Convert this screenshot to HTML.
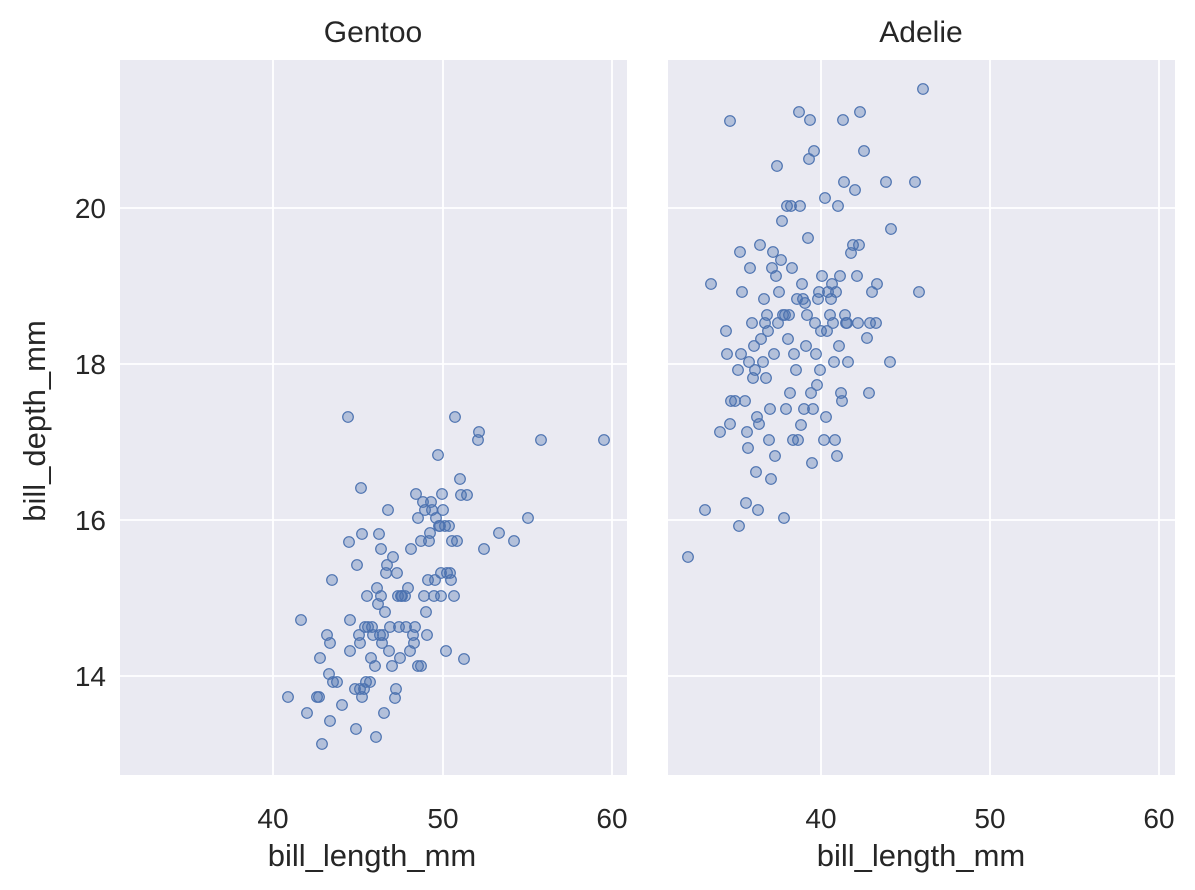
<!DOCTYPE html>
<html><head><meta charset="utf-8"><style>
body{margin:0;background:#fff}
svg{display:block}
text{font-family:"Liberation Sans",sans-serif;fill:#262626}
</style></head><body>
<svg id="s" width="1195" height="890" xmlns="http://www.w3.org/2000/svg">
<rect x="120" y="60" width="507" height="715" fill="#eaeaf2"/>
<rect x="668" y="60" width="507" height="715" fill="#eaeaf2"/>
<g stroke="#fff" stroke-width="1.8">
<line x1="273" y1="60" x2="273" y2="775"/><line x1="443" y1="60" x2="443" y2="775"/><line x1="612" y1="60" x2="612" y2="775"/>
<line x1="821" y1="60" x2="821" y2="775"/><line x1="990" y1="60" x2="990" y2="775"/><line x1="1159" y1="60" x2="1159" y2="775"/>
<line x1="120" y1="208" x2="627" y2="208"/><line x1="120" y1="364" x2="627" y2="364"/><line x1="120" y1="520" x2="627" y2="520"/><line x1="120" y1="676" x2="627" y2="676"/>
<line x1="668" y1="208" x2="1175" y2="208"/><line x1="668" y1="364" x2="1175" y2="364"/><line x1="668" y1="520" x2="1175" y2="520"/><line x1="668" y1="676" x2="1175" y2="676"/>
</g>
<g id="pts" fill="rgba(76,114,176,0.35)" stroke="#4c72b0" stroke-width="1.2"></g>
<g font-size="28" text-anchor="middle">
<text x="273" y="828">40</text><text x="443" y="828">50</text><text x="612" y="828">60</text>
<text x="821" y="828">40</text><text x="990" y="828">50</text><text x="1159" y="828">60</text>
<text x="373" y="42" font-size="30">Gentoo</text><text x="921" y="42" font-size="30">Adelie</text>
<text x="372" y="866" font-size="31">bill_length_mm</text><text x="921" y="866" font-size="31">bill_length_mm</text>
</g>
<g font-size="28" text-anchor="end">
<text x="106" y="218">20</text><text x="106" y="374">18</text><text x="106" y="530">16</text><text x="106" y="686">14</text>
</g>
<text x="0" y="0" font-size="31" text-anchor="middle" transform="translate(45,421) rotate(-90)">bill_depth_mm</text>
</svg>
<script>
var p=[[288,697],[307,713],[317,697],[319,697],[322,744],[301,620],[327,635],[330,643],[320,658],[329,674],[333,682],[337,682],[330,721],[342,705],[332,580],[348,417],[349,542],[350,620],[350,651],[355,689],[356,729],[357,565],[359,635],[360,643],[361,488],[362,534],[360,689],[362,697],[364,689],[365,627],[366,682],[367,596],[368,627],[370,682],[371,658],[372,627],[373,635],[375,666],[376,737],[377,588],[378,604],[379,534],[380,635],[381,549],[381,596],[382,643],[383,635],[384,713],[385,612],[386,573],[387,565],[388,510],[389,651],[390,627],[392,666],[393,557],[395,698],[396,689],[397,573],[398,596],[399,627],[400,658],[401,596],[402,596],[405,596],[406,627],[408,588],[410,651],[411,549],[413,635],[414,643],[415,627],[416,494],[418,518],[418,666],[421,666],[421,541],[423,502],[424,596],[425,510],[426,612],[427,635],[428,580],[429,541],[430,533],[431,502],[432,510],[434,596],[435,580],[436,518],[438,455],[439,526],[440,526],[441,596],[441,573],[442,494],[443,510],[445,526],[446,651],[447,573],[449,526],[450,573],[451,580],[452,541],[454,596],[455,417],[457,541],[460,479],[461,495],[464,659],[467,495],[478,440],[479,432],[484,549],[499,533],[514,541],[528,518],[541,440],[604,440],
[688,557],[705,510],[711,284],[720,432],[726,331],[727,354],[730,424],[731,401],[735,401],[738,370],[739,526],[740,252],[741,354],[742,292],[745,401],[746,503],[747,432],[748,448],[749,362],[750,268],[752,323],[753,378],[754,346],[755,370],[756,472],[757,417],[758,510],[759,424],[760,245],[761,339],[763,362],[764,299],[765,323],[766,378],[767,315],[768,331],[769,440],[770,409],[771,479],[772,268],[773,252],[774,354],[775,456],[776,276],[777,166],[778,323],[779,292],[781,260],[782,221],[783,315],[784,518],[785,315],[786,409],[787,206],[788,339],[789,315],[790,393],[791,206],[792,268],[793,440],[794,354],[796,370],[797,299],[798,440],[799,112],[800,206],[801,425],[802,284],[803,299],[804,409],[805,303],[806,346],[807,315],[808,238],[809,159],[810,120],[811,393],[812,463],[813,409],[814,151],[815,323],[816,354],[817,385],[818,299],[819,292],[820,370],[821,331],[822,276],[824,440],[825,198],[826,417],[827,331],[828,292],[830,315],[831,299],[832,284],[833,323],[834,362],[835,440],[836,292],[837,456],[838,206],[839,346],[840,276],[841,393],[842,401],[843,120],[844,182],[845,315],[846,323],[847,323],[848,362],[851,253],[853,245],[855,190],[857,276],[858,323],[859,245],[860,112],[864,151],[867,338],[869,393],[870,323],[872,292],[876,323],[877,284],[886,182],[890,362],[891,229],[915,182],[919,292],[923,89],[730,121]];
var g=document.getElementById('pts'),h='';
p.forEach(function(q){h+='<circle cx="'+q[0]+'" cy="'+q[1]+'" r="5.3"/>';});
g.innerHTML=h;
</script>
</body></html>
